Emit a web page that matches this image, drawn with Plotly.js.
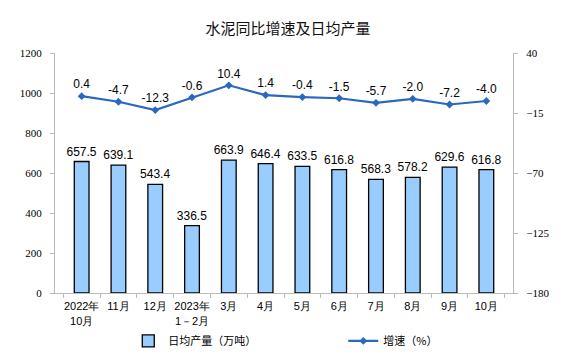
<!DOCTYPE html>
<html><head><meta charset="utf-8">
<script src="https://cdn.plot.ly/plotly-3.0.1.min.js"></script>
<style>body{margin:0;background:#fff}#c{width:576px;height:357px}</style>
</head><body><div id="c"></div>
<script>
const categories = ["2022年<br>10月","11月","12月","2023年<br>1－2月","3月","4月","5月","6月","7月","8月","9月","10月"];
const output = [657.5, 639.1, 543.4, 336.5, 663.9, 646.4, 633.5, 616.8, 568.3, 578.2, 629.6, 616.8];
const growth = [0.4, -4.7, -12.3, -0.6, 10.4, 1.4, -0.4, -1.5, -5.7, -2.0, -7.2, -4.0];
const leftTicks = [0, 200, 400, 600, 800, 1000, 1200];
const rightTicks = [-180, -125, -70, -15, 40];

const labelFont = {family: "Liberation Sans, Arial, sans-serif", size: 12, color: "#000"};
const traces = [
  {type: "bar", x: categories, y: output, name: "日均产量（万吨）",
   marker: {color: "#99ccff", line: {color: "#000", width: 1.3}},
   text: output.map(v => v.toFixed(1)), textposition: "outside", cliponaxis: false, constraintext: "none",
   textfont: labelFont, hoverinfo: "none"},
  {type: "scatter", mode: "lines+markers+text", x: categories, y: growth, yaxis: "y2",
   name: "增速（%）", line: {color: "#2a68c0", width: 2.2},
   marker: {symbol: "diamond", size: 6, color: "#2a68c0"},
   text: growth.map(v => v.toFixed(1)), textposition: "top center", cliponaxis: false,
   textfont: labelFont, hoverinfo: "none"}
];
const layout = {
  width: 576, height: 357,
  margin: {l: 55, r: 63, t: 53, b: 64, autoexpand: false},
  paper_bgcolor: "#fff", plot_bgcolor: "#fff",
  title: {text: "水泥同比增速及日均产量", font: {family: "Noto Sans CJK SC, sans-serif", size: 15, color: "#111"}, x: 0.5, xanchor: "center", y: 0.92, yanchor: "middle"},
  bargap: 0.6,
  showlegend: true,
  legend: {orientation: "h", xref: "paper", yref: "container", x: 0.16, xanchor: "left", y: 0.045, yanchor: "middle",
    font: {family: "Noto Sans CJK SC, sans-serif", size: 11, color: "#000"}, itemwidth: 30, entrywidth: 170, entrywidthmode: "pixels"},
  xaxis: {type: "category", showline: true, linecolor: "#bbb", linewidth: 1, ticks: "outside", tickson: "boundaries",
    ticklen: 4, tickcolor: "#bbb", showgrid: false, zeroline: false, tickangle: 0, automargin: false, ticklabelstandoff: 3,
    tickfont: {family: "Liberation Sans, Arial, sans-serif", size: 11, color: "#000"}},
  yaxis: {range: [0, 1200], tickvals: leftTicks, showline: true, linecolor: "#bbb", ticks: "outside", ticklen: 4,
    tickcolor: "#bbb", showgrid: false, zeroline: false, ticklabelstandoff: 6, automargin: false,
    tickfont: {family: "Liberation Serif, Times New Roman, serif", size: 11, color: "#000"}},
  yaxis2: {range: [-180, 40], tickvals: rightTicks, overlaying: "y", side: "right", showline: true, linecolor: "#bbb",
    ticks: "outside", ticklen: 4, tickcolor: "#bbb", showgrid: false, zeroline: false, ticklabelstandoff: 6, automargin: false,
    tickfont: {family: "Liberation Serif, Times New Roman, serif", size: 11, color: "#000"}}
};
Plotly.newPlot("c", traces, layout, {staticPlot: true});
</script></body></html>
